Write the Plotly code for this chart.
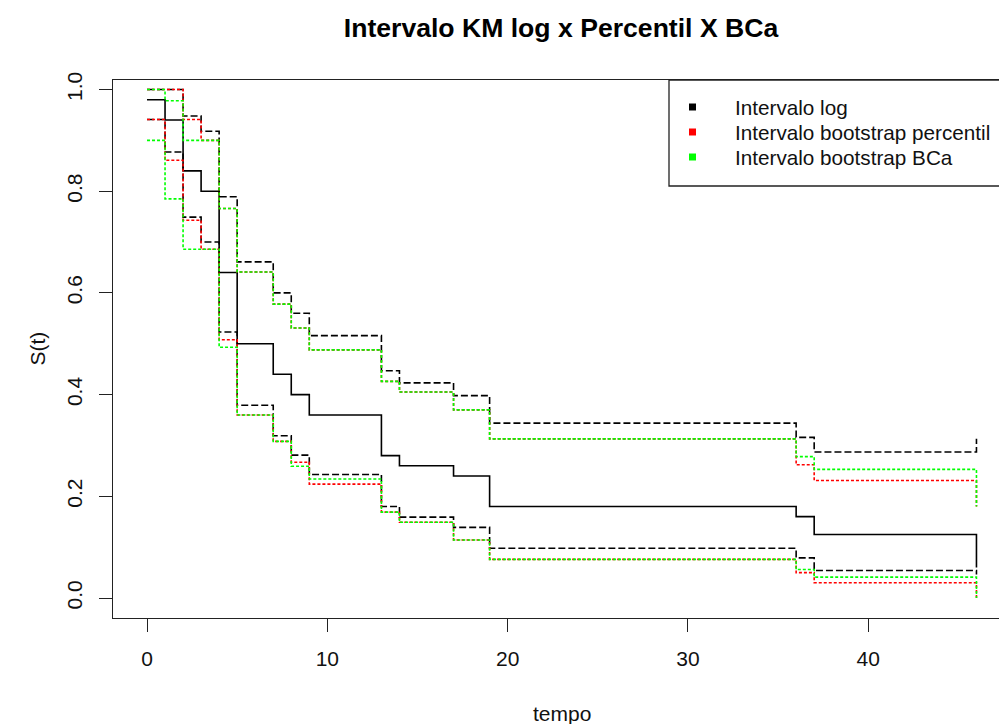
import plotly.graph_objects as go

# Step times
tempo = [0, 1, 2, 3, 4, 5, 7, 8, 9, 13, 14, 17, 19, 36, 37, 46]

# Kaplan-Meier estimate
km = [0.98, 0.94, 0.84, 0.80, 0.64, 0.50, 0.44, 0.40, 0.36, 0.28, 0.26, 0.24, 0.18, 0.16, 0.125, 0.06]

# Log interval (black dashed)
log_sup = [1.0, 1.0, 0.948, 0.918, 0.789, 0.661, 0.600, 0.560, 0.516, 0.447, 0.423, 0.398, 0.344, 0.316, 0.287, 0.313]
log_inf = [0.941, 0.877, 0.749, 0.700, 0.523, 0.379, 0.319, 0.281, 0.243, 0.180, 0.159, 0.139, 0.098, 0.079, 0.054, 0.046]

# Bootstrap percentile interval (red dotted)
perc_sup = [1.0, 1.0, 0.941, 0.900, 0.766, 0.641, 0.578, 0.531, 0.488, 0.426, 0.405, 0.370, 0.313, 0.262, 0.231, 0.180]
perc_inf = [0.941, 0.861, 0.743, 0.686, 0.508, 0.360, 0.308, 0.267, 0.224, 0.169, 0.149, 0.114, 0.076, 0.050, 0.030, 0.0]

# Bootstrap BCa interval (green dotted)
bca_sup = [1.0, 0.978, 0.900, 0.900, 0.766, 0.641, 0.578, 0.531, 0.488, 0.426, 0.405, 0.370, 0.313, 0.278, 0.253, 0.180]
bca_inf = [0.900, 0.785, 0.686, 0.686, 0.493, 0.360, 0.308, 0.259, 0.234, 0.169, 0.149, 0.114, 0.076, 0.056, 0.041, 0.0]

legend_labels = ["Intervalo log", "Intervalo bootstrap percentil", "Intervalo bootstrap BCa"]
legend_colors = ["#000000", "#FF0000", "#00FF00"]

x_ticks = [0, 10, 20, 30, 40]
y_ticks = [0.0, 0.2, 0.4, 0.6, 0.8, 1.0]

FONT = "Liberation Sans, Arial, sans-serif"

# plot-area geometry (pixels)
L, R, T, B = 113, 999, 80, 618
PW, PH = R - L, B - T

def px(xpix):
    return (xpix - L) / PW

def py(ypix):
    return (B - ypix) / PH

fig = go.Figure()

def step(y, color, dash, width):
    fig.add_trace(go.Scatter(x=tempo, y=y, mode="lines", line_shape="hv",
                             line=dict(color=color, dash=dash, width=width),
                             showlegend=False, hoverinfo="skip"))

step(km, "#000000", "solid", 1.6)
step(log_sup, "#000000", "7px,3px", 1.6)
step(log_inf, "#000000", "7px,3px", 1.6)
step(perc_sup, "#FF0000", "3px,2px", 1.6)
step(perc_inf, "#FF0000", "3px,2px", 1.6)
step(bca_sup, "#00FF00", "3px,2px", 1.6)
step(bca_inf, "#00FF00", "3px,2px", 1.6)

fig.update_layout(
    width=999, height=724,
    margin=dict(l=L, r=999 - R, t=T, b=724 - B),
    paper_bgcolor="white", plot_bgcolor="white",
    font=dict(family=FONT, size=21, color="black"),
    title=dict(text="<b>Intervalo KM log x Percentil X BCa</b>",
               x=561/999, xref="container", xanchor="center",
               y=1 - 28/724, yref="container", yanchor="middle",
               font=dict(family=FONT, size=26.6, color="black")),
    showlegend=False,
)

fig.update_xaxes(range=[-1.886, 47.25], tickvals=x_ticks, ticks="outside",
                 ticklen=13, tickwidth=1.2, tickcolor="#222",
                 showline=True, linecolor="#222", linewidth=1.3, mirror=True,
                 showgrid=False, zeroline=False, ticklabelstandoff=9,
                 tickfont=dict(family=FONT, size=21, color="#111"))
fig.update_yaxes(range=[-0.0393, 1.0187], tickvals=y_ticks, tickformat=".1f",
                 ticks="outside", ticklen=13, tickwidth=1.2, tickcolor="#222",
                 showline=True, linecolor="#222", linewidth=1.3, mirror=False,
                 showgrid=False, zeroline=False, tickangle=-90, ticklabelstandoff=8,
                 tickfont=dict(family=FONT, size=21, color="#111"))

# axis titles
fig.add_annotation(text="tempo", x=23, xref="x", y=0, yref="paper", yanchor="middle",
                   yshift=-(713 - B), showarrow=False,
                   font=dict(family=FONT, size=21, color="#111"))
fig.add_annotation(text="S(t)", x=0, xref="paper", xshift=-(L - 23), y=0.5, yref="paper",
                   textangle=-90, showarrow=False,
                   font=dict(family=FONT, size=21, color="#111"))

# legend box (drawn like R's legend, partly outside the page on the right)
fig.add_shape(type="rect", xref="paper", yref="paper",
              x0=px(669), x1=px(1012), y0=py(186), y1=py(80),
              line=dict(color="#222", width=1.3), fillcolor="white", layer="above")
row_y = [107, 132, 157]
for lab, col, ry in zip(legend_labels, legend_colors, row_y):
    fig.add_shape(type="rect", xref="paper", yref="paper",
                  x0=px(689), x1=px(696), y0=py(ry + 3.5), y1=py(ry - 3.5),
                  line=dict(color=col, width=0), fillcolor=col, layer="above")
    fig.add_annotation(text=lab, x=px(733), xref="paper", xanchor="left",
                       y=py(ry), yref="paper", yanchor="middle", showarrow=False,
                       font=dict(family=FONT, size=20.7, color="#111"))

fig.write_html("out.html")
